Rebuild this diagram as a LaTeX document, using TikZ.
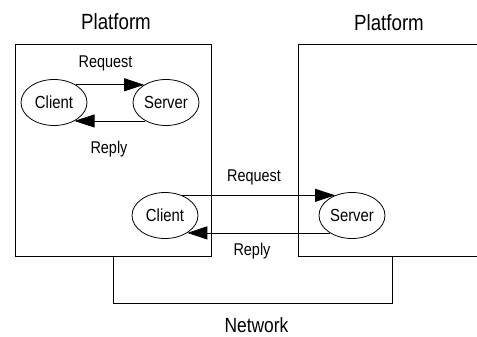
\documentclass[tikz,border=0pt]{standalone}
\usepackage{fontspec}
\setmainfont{Liberation Sans}[FakeStretch=0.85]
\usetikzlibrary{shapes.geometric, arrows.meta}

\tikzset{
    platform/.style={draw, line width=1pt, inner sep=0pt},
    proc/.style={draw, ellipse, line width=0.8pt, inner sep=0pt,
        minimum width=66pt, minimum height=46pt,
        font=\fontsize{17.5}{20}\selectfont},
    msg/.style={font=\fontsize{17}{20}\selectfont},
    title/.style={font=\fontsize{22}{24}\selectfont},
    call/.style={line width=0.8pt, -{Triangle[length=20pt,width=13pt]}}
}

\begin{document}
\begin{tikzpicture}[x=1pt,y=-1pt]
    \useasboundingbox (0,0) rectangle (477,337);

    % the two platforms (right one runs off the page)
    \node[platform, minimum width=196pt, minimum height=211pt] (leftbox) at (113,150.5) {};
    \node[platform, minimum width=188pt, minimum height=211pt] (rightbox) at (392,150.5) {};
    \node[title] (lefttitle) at (116,21.5) {Platform};
    \node[title] (righttitle) at (389,22.5) {Platform};

    % network joining the platforms
    \draw[line width=1pt] (leftbox.south) -- ++(0,47) -| (rightbox.south);
    \node[title, font=\fontsize{20.5}{24}\selectfont] (network) at (256.5,325.5) {Network};

    % local client and server
    \node[proc] (client1) at (54,102.5) {Client};
    \node[proc] (server1) at (166,102.5) {Server};
    \draw[call] (client1.39) -- (server1.141);
    \draw[call] (server1.-138) -- (client1.-42);
    \node[msg] (req1) at (105.5,63.5) {Request};
    \node[msg] (rep1) at (109,149.5) {Reply};

    % remote call across the network
    \node[proc] (client2) at (165,215.5) {Client};
    \node[proc] (server2) at (352,215.5) {Server};
    \draw[call] (client2.50) -- (server2.130);
    \draw[call] (server2.-142) -- (client2.-38);
    \node[msg] (req2) at (254,177.5) {Request};
    \node[msg] (rep2) at (252,251.5) {Reply};
\end{tikzpicture}
\end{document}
